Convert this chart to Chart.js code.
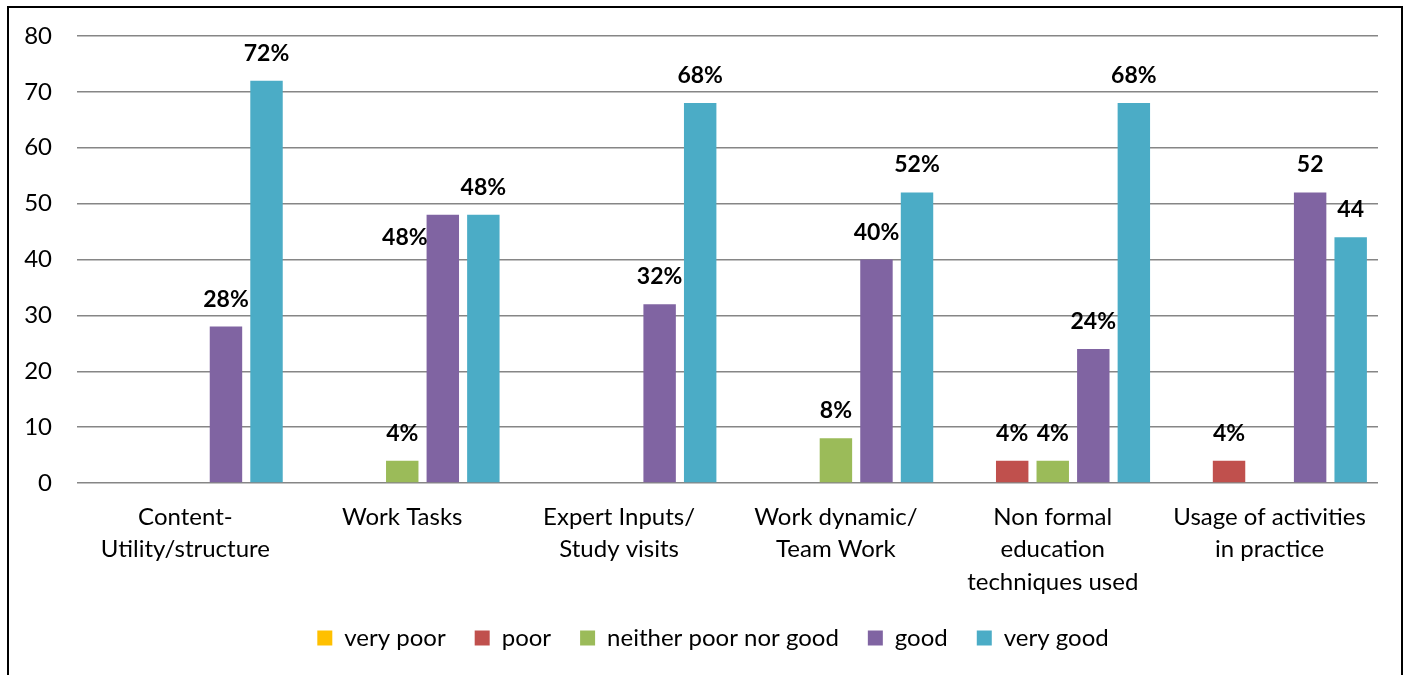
<!DOCTYPE html>
<html>
<head>
<meta charset="utf-8">
<title>Evaluation chart</title>
<script src="https://cdn.jsdelivr.net/npm/chart.js@4.4.1/dist/chart.umd.min.js"></script>
<style>
  html, body { margin: 0; padding: 0; background: #fff; }
  #wrap { position: relative; width: 1413px; height: 675px; overflow: hidden; }
  #frame { position: absolute; left: 7px; top: 6px; width: 1396px; height: 700px; border: 2px solid #000; box-sizing: border-box; }
  canvas { position: absolute; left: 0; top: 0; }
</style>
</head>
<body>
<div id="wrap">
  <div id="frame"></div>
  <canvas id="chart" width="1413" height="675"></canvas>
</div>
<script>
  // categories
  var categories = [
    ['Content-', 'Utility/structure'],
    'Work Tasks',
    ['Expert Inputs/', 'Study visits'],
    ['Work dynamic/', 'Team Work'],
    ['Non formal', 'education', 'techniques used'],
    ['Usage of activities', 'in practice']
  ];

  var seriesNames = ['very poor', 'poor', 'neither poor nor good', 'good', 'very good'];

  // series values
  var veryPoor = [0, 0, 0, 0, 0, 0];
  var poor = [0, 0, 0, 0, 4, 4];
  var neither = [0, 4, 0, 8, 4, 0];
  var good = [28, 48, 32, 40, 24, 52];
  var veryGood = [72, 48, 68, 52, 68, 44];

  // data label texts (blank where no label is shown)
  var veryPoorLabels = ['', '', '', '', '', ''];
  var poorLabels = ['', '', '', '', '4%', '4%'];
  var neitherLabels = ['', '4%', '', '8%', '4%', ''];
  var goodLabels = ['28%', '48%', '32%', '40%', '24%', '52'];
  var veryGoodLabels = ['72%', '48%', '68%', '52%', '68%', '44'];

  // y axis ticks
  var yTicks = [0, 10, 20, 30, 40, 50, 60, 70, 80];

  var colors = ['#FFC000', '#C0504D', '#9BBB59', '#8064A2', '#4BACC6'];
  var seriesValues = [veryPoor, poor, neither, good, veryGood];
  var seriesLabels = [veryPoorLabels, poorLabels, neitherLabels, goodLabels, veryGoodLabels];

  var FONT = 'Lato, "Open Sans", sans-serif';

  // label that sits to the left of its bar instead of above it
  var sideLabel = { dataset: 3, index: 1 };

  var dataLabelPlugin = {
    id: 'dataLabels',
    afterDatasetsDraw: function (chart) {
      var ctx = chart.ctx;
      ctx.save();
      ctx.font = 'bold 23px ' + FONT;
      ctx.fillStyle = '#000';
      ctx.textBaseline = 'alphabetic';
      chart.data.datasets.forEach(function (ds, di) {
        var meta = chart.getDatasetMeta(di);
        meta.data.forEach(function (bar, i) {
          var text = seriesLabels[di][i];
          if (!text) return;
          if (di === sideLabel.dataset && i === sideLabel.index) {
            ctx.textAlign = 'right';
            ctx.fillText(text, bar.x - bar.width / 2 + 1, bar.y + 30);
          } else {
            ctx.textAlign = 'center';
            ctx.fillText(text, bar.x, bar.y - 20);
          }
        });
      });
      ctx.restore();
    }
  };

  // the legend is centred a little to the right of the canvas middle
  var legendShift = {
    id: 'legendShift',
    afterLayout: function (chart) {
      if (chart.legend) chart.legend.left += 48;
    }
  };

  var datasets = seriesNames.map(function (name, i) {
    return {
      label: name,
      data: seriesValues[i],
      backgroundColor: colors[i],
      borderWidth: 0,
      categoryPercentage: 0.935,
      barPercentage: 0.8
    };
  });

  new Chart(document.getElementById('chart'), {
    type: 'bar',
    data: { labels: categories, datasets: datasets },
    plugins: [dataLabelPlugin, legendShift],
    options: {
      responsive: false,
      animation: false,
      layout: { padding: { top: 36, right: 35, bottom: 15, left: 0 } },
      scales: {
        y: {
          min: 0,
          max: 80,
          afterBuildTicks: function (scale) {
            scale.ticks = yTicks.map(function (v) { return { value: v }; });
          },
          afterFit: function (scale) {
            scale.width = 77;
            scale.paddingTop = 0;
            scale.paddingBottom = 0;
          },
          grid: { color: '#868686', lineWidth: 1.5, drawTicks: false },
          border: { display: false },
          ticks: { color: '#000', padding: 25, font: { family: FONT, size: 24 } }
        },
        x: {
          grid: { display: false },
          border: { display: false },
          afterFit: function (scale) { scale.height = 114; },
          ticks: {
            color: '#000',
            padding: 10,
            maxRotation: 0,
            autoSkip: false,
            font: { family: FONT, size: 24, lineHeight: 1.35 }
          }
        }
      },
      plugins: {
        legend: {
          position: 'bottom',
          labels: {
            color: '#000',
            boxWidth: 15,
            boxHeight: 15,
            padding: 29,
            font: { family: FONT, size: 24 }
          }
        },
        tooltip: { enabled: false }
      }
    }
  });
</script>
</body>
</html>
